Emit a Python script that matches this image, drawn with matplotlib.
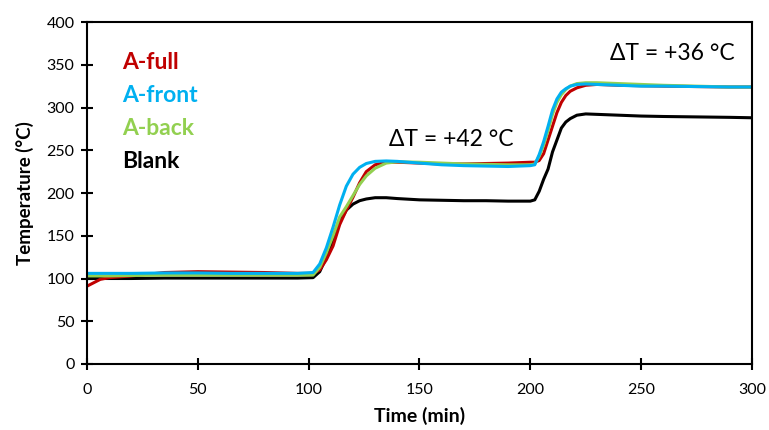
import matplotlib
matplotlib.use("Agg")
import matplotlib.pyplot as plt

# time grid (min) shared by all four traces
time_min = [0, 3, 6, 10, 20, 35, 50, 65, 80, 95, 102, 105, 108, 111, 114, 117,
            120, 123, 126, 130, 135, 140, 150, 160, 170, 180, 190, 200, 202, 204,
            206, 208, 210, 212, 214, 216, 218, 221, 225, 230, 240, 250, 260, 275,
            290, 300]

# temperature readings (°C)
a_full = [91, 95, 99, 101, 103, 107, 108, 107.5, 107, 106, 106, 110, 122, 138,
          163, 180, 195, 212, 225, 233, 236, 236, 235, 234, 234, 234.5, 235, 236,
          236, 238, 246, 262, 278, 294, 306, 314, 319, 323, 326, 327, 326, 325.5,
          325, 324.5, 324, 324]
a_front = [106, 106, 106, 106, 106, 106.5, 106.5, 106, 106, 106, 107, 117, 136,
           160, 186, 208, 222, 230, 234.5, 237, 237.5, 237, 235, 233, 232, 231.5,
           231, 232, 233, 245, 260, 278, 297, 310, 318, 322, 325, 327, 327.5, 327,
           326, 325, 325, 324.5, 324, 324]
a_back = [103, 103, 103, 103, 103.5, 104, 104, 104, 104, 104, 104, 113, 130, 150,
          172, 184, 197, 210, 220, 229, 235, 236.5, 236, 235, 234, 233.5, 233, 233,
          234, 243, 256, 273, 292, 306, 315, 321, 325, 328, 329, 329, 328, 327,
          326, 325, 324, 324]
blank = [100, 100, 100, 100, 100, 100.5, 100.5, 100.5, 100.5, 100.5, 101, 108, 125,
         145, 166, 180, 187, 191, 193, 194.5, 194.5, 193.5, 192, 191.5, 191, 191,
         190.5, 190.5, 192, 202, 216, 228, 248, 262, 276, 283, 287, 291, 292.5, 292,
         291, 290, 289.5, 289, 288.5, 288]

labels = ["A-full", "A-front", "A-back", "Blank"]
colors = ["#C00000", "#00B0F0", "#92D050", "#000000"]
label_y = [353, 314, 276, 237]

plt.rcParams["font.family"] = ["Lato", "DejaVu Sans"]

fig = plt.figure(figsize=(7.69, 4.30), dpi=100)
ax = fig.add_axes([0.1131, 0.1535, 0.8648, 0.7953])

ax.plot(time_min, blank, color=colors[3], lw=2.2)
ax.plot(time_min, a_full, color=colors[0], lw=2.2)
ax.plot(time_min, a_back, color=colors[2], lw=2.2)
ax.plot(time_min, a_front, color=colors[1], lw=2.2)

for lab, col, yy in zip(labels, colors, label_y):
    ax.text(15.8, yy, lab, color=col, fontsize=16.5, fontweight="bold",
            va="center", ha="left")

ax.text(164.4, 263, "ΔT = +42 °C", fontsize=16.5, ha="center", va="center")
ax.text(264, 362.6, "ΔT = +36 °C", fontsize=16.5, ha="center", va="center")

ax.set_xlim(0, 300)
ax.set_ylim(0, 400)
ax.set_xticks(range(0, 301, 50))
ax.set_yticks(range(0, 401, 50))
ax.tick_params(direction="inout", length=8, width=1.5, labelsize=11.5)
ax.tick_params(axis="x", pad=10)
ax.tick_params(axis="y", pad=5)
for sp in ax.spines.values():
    sp.set_linewidth(1.5)

ax.set_xlabel("Time (min)", fontsize=14, fontweight="bold", labelpad=7)
ax.set_ylabel("Temperature (°C)", fontsize=13.5, fontweight="bold", labelpad=9)

fig.savefig("out.png", dpi=100)
